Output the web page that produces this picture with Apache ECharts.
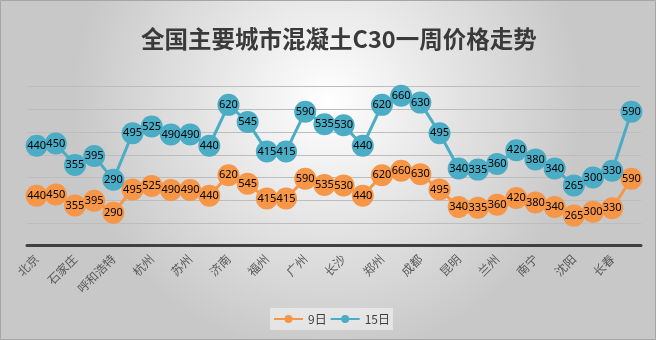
<!DOCTYPE html>
<html><head><meta charset="utf-8">
<script src="https://cdn.jsdelivr.net/npm/echarts@6/dist/echarts.min.js"></script>
<style>html,body{margin:0;padding:0;}#c{width:656px;height:340px;}</style>
</head><body><div id="c"></div>
<script>
const categories = ['北京','天津','石家庄','太原','呼和浩特','上海','杭州','南京','苏州','合肥','济南','南昌','福州','厦门','广州','武汉','长沙','海口','郑州','重庆','成都','贵阳','昆明','西安','兰州','西宁','南宁','银川','沈阳','哈尔滨','长春','乌鲁木齐'];
const price9 = [440,450,355,395,290,495,525,490,490,440,620,545,415,415,590,535,530,440,620,660,630,495,340,335,360,420,380,340,265,300,330,590];
const price15 = [440,450,355,395,290,495,525,490,490,440,620,545,415,415,590,535,530,440,620,660,630,495,340,335,360,420,380,340,265,300,330,590];
const seriesNames = ['9日','15日'];
const titleText = '全国主要城市混凝土C30一周价格走势';

const chart = echarts.init(document.getElementById('c'));
function mkSeries(name, data, color){
  return {
    name, type:'line', stack:'total', data,
    symbol:'circle', symbolSize:22, showAllSymbol:true,
    lineStyle:{color, width:3},
    itemStyle:{color},
    label:{show:true, position:'inside', color:'#000', fontSize:11, fontFamily:'Noto Sans'},
    emphasis:{disabled:true}, animation:false
  };
}
chart.setOption({
  backgroundColor:{type:'radial', x:0.5, y:0.3, r:0.75,
    colorStops:[{offset:0,color:'#ffffff'},{offset:1,color:'#c8c8c8'}]},
  animation:false,
  title:{text:titleText, left:136, top:22,
    textStyle:{fontSize:23.5, color:'#3a3a3a', fontWeight:'bold', fontFamily:'Noto Sans CJK SC'}},
  graphic:[{type:'rect', shape:{x:0.5,y:0.5,width:655,height:339}, style:{fill:'none', stroke:'#a6a6a6', lineWidth:1}, silent:true}],
  legend:{top:308, left:270, itemGap:3, itemWidth:29, itemHeight:10,
    backgroundColor:'rgba(238,238,238,0.7)', padding:[5,3],
    textStyle:{fontSize:12, color:'#404040', fontFamily:'Noto Sans CJK SC'},
    data:seriesNames},
  grid:{left:27, right:15, top:86.7, bottom:94.3},
  xAxis:{type:'category', data:categories, boundaryGap:true,
    axisLine:{lineStyle:{color:'#404040', width:3}},
    axisTick:{show:false},
    axisLabel:{interval:1, rotate:45, margin:11, fontSize:12, color:'#595959', fontFamily:'Noto Sans CJK SC'}},
  yAxis:{type:'value', min:0, max:1400, interval:200,
    axisLabel:{show:false}, axisLine:{show:false}, axisTick:{show:false},
    splitLine:{lineStyle:{color:'#bdbdbd', width:1}}},
  series:[mkSeries(seriesNames[0], price9, '#F79646'), mkSeries(seriesNames[1], price15, '#4BACC6')]
});
</script></body></html>
